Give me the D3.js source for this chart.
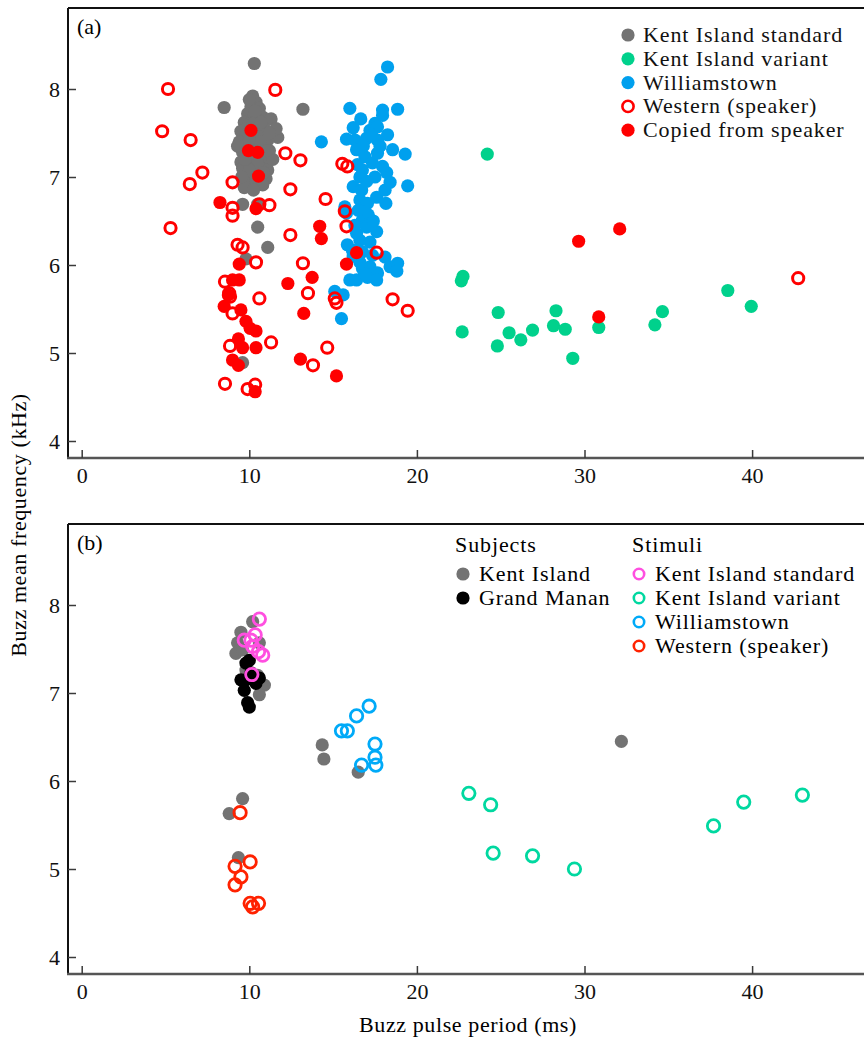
<!DOCTYPE html>
<html><head><meta charset="utf-8">
<script src="https://cdn.jsdelivr.net/npm/d3@7"></script>
<style>body{margin:0;background:#fff}svg{display:block}</style>
</head><body>
<svg id="c" width="864" height="1040"></svg>
<script>
// ---------- DATA (ms, kHz) ----------
const xTicks = [0, 10, 20, 30, 40];
const yTicks = [4, 5, 6, 7, 8];

// Panel (a)
const kentStandardA = [[10.3,8.29],[8.5,7.79],[13.2,7.77],[11.7,7.45],
 [10.2,7.92],[10.4,7.85],[10.1,7.80],[10.6,7.78],[9.9,7.72],[10.3,7.70],[10.8,7.68],[11.3,7.66],[9.7,7.62],[10.0,7.60],
 [10.5,7.58],[10.9,7.55],[9.5,7.52],[9.8,7.48],[10.2,7.47],[10.7,7.45],[11.1,7.42],[9.4,7.40],[9.9,7.37],[10.4,7.35],
 [10.8,7.33],[11.2,7.30],[9.6,7.28],[10.1,7.25],[10.6,7.22],[11.0,7.20],[9.5,7.17],[9.9,7.14],[10.3,7.12],[10.7,7.10],
 [11.1,7.08],[9.7,7.05],[10.2,7.02],[10.6,7.00],[11.0,6.98],[9.9,6.92],[10.4,6.90],[10.8,6.91],[9.7,6.88],[11.6,7.55],
 [9.3,7.35],[11.4,7.20],[10.0,7.88],[10.5,7.65],[10.1,7.52],[9.6,7.10],[10.9,7.40],[11.2,7.50],
 [10.35,7.75],[10.65,7.40],[10.0,7.42],[10.3,7.28],[10.5,7.15],[10.0,7.08],[10.85,7.05],[10.4,6.97],[10.2,7.60],[9.55,7.00],
 [10.7,7.62],[11.05,7.30],[9.75,7.20],[10.25,6.85],
 [9.6,6.69],[10.5,6.69],[10.5,6.43],[11.1,6.20],[9.8,6.07],[9.6,4.89]];
const kentVariantA = [[24.2,7.26],[22.75,5.87],[22.65,5.82],[24.85,5.46],[22.7,5.24],[24.8,5.08],[25.5,5.23],[26.2,5.15],
 [26.9,5.26],[28.3,5.48],[28.15,5.31],[28.85,5.27],[29.3,4.94],[30.85,5.29],[34.2,5.32],[34.65,5.47],[38.55,5.71],[39.95,5.53]];
const williamstownA = [[18.25,8.25],[17.85,8.11],[16.0,7.78],[18.85,7.77],[17.95,7.76],[16.65,7.66],[14.3,7.40],[18.25,7.48],
 [18.55,7.31],[19.3,7.26],[19.45,6.90],[18.15,6.70],[15.5,5.39],[15.1,5.70],[15.6,5.66],[18.1,6.09],
 [17.5,7.61],[17.2,7.53],[16.2,7.56],[15.8,7.43],[16.3,7.42],[17.0,7.44],[17.65,7.42],[16.4,7.31],[16.9,7.23],[16.45,7.14],
 [16.75,7.08],[16.6,7.00],[16.2,6.89],[16.7,6.85],[16.6,6.74],[17.05,6.70],[17.6,6.77],[18.1,6.85],[18.4,6.94],[18.2,7.05],
 [17.95,7.12],[17.35,7.16],[17.65,7.27],[17.8,7.35],[17.95,7.70],[17.65,7.57],
 [17.1,6.57],[16.75,6.51],[16.3,6.45],[17.0,6.43],[17.6,6.38],[16.4,6.36],[15.85,6.23],[16.6,6.28],[17.2,6.26],[16.15,6.17],
 [16.75,6.15],[17.35,6.11],[16.6,6.03],[17.2,5.98],[16.75,5.96],[17.65,5.91],[16.0,5.83],[16.4,5.83],[17.05,5.86],[17.6,5.83],
 [18.4,5.98],[18.85,6.02],[18.8,5.93],[15.7,6.66],[15.8,6.59],
 [17.3,7.48],[16.8,7.35],[17.5,7.00],[17.0,6.95],[16.9,6.60],[16.5,6.62],[17.4,6.50],[16.2,6.10],[16.9,5.90]];
const westernA = [[5.15,8.0],[4.8,7.52],[6.5,7.42],[7.2,7.05],[6.45,6.92],[9.0,6.94],[11.55,7.99],[12.15,7.27],[13.05,7.19],
 [12.45,6.86],[14.55,6.75],[9.0,6.65],[9.0,6.56],[11.2,6.68],[10.6,6.69],[5.3,6.42],[12.45,6.34],[15.55,7.15],[15.85,7.12],
 [15.7,6.61],[15.8,6.44],[9.3,6.23],[9.6,6.2],[10.4,6.03],[13.2,6.02],[8.55,5.81],[8.8,5.68],[8.85,5.64],[10.6,5.62],
 [13.5,5.68],[15.1,5.62],[15.2,5.57],[9.0,5.45],[11.3,5.12],[8.85,5.08],[14.65,5.06],[13.8,4.86],[8.55,4.65],[9.9,4.59],
 [10.35,4.64],[17.6,6.14],[18.55,5.61],[19.45,5.48],[42.75,5.85]];
const copiedA = [[10.1,7.53],[9.95,7.3],[10.5,7.28],[10.55,7.01],[8.25,6.71],[10.4,6.64],[14.2,6.44],[14.3,6.30],[9.4,6.01],
 [9.0,5.83],[9.4,5.83],[12.3,5.79],[13.75,5.86],[15.8,6.01],[8.75,5.66],[8.5,5.53],[9.5,5.49],[9.8,5.36],[10.05,5.28],
 [10.4,5.25],[13.25,5.45],[9.35,5.16],[9.6,5.06],[10.4,5.06],[9.0,4.92],[9.35,4.86],[13.05,4.93],[15.2,4.74],[10.35,4.56],
 [16.4,6.14],[29.65,6.27],[32.1,6.41],[30.85,5.41]];

// Panel (b)
const kentIslandSubjB = [[9.5,7.69],[9.3,7.57],[9.2,7.45],[10.2,7.81],[10.6,7.57],[9.8,7.26],[10.9,7.09],[10.6,6.98],
 [10.5,7.20],[9.6,7.49],[9.6,5.80],[8.8,5.63],[9.35,5.13],[14.35,6.41],[14.45,6.25],[16.5,6.10],[32.2,6.45]];
const grandMananB = [[10.0,7.37],[9.8,7.15],[10.4,7.11],[9.7,7.03],[9.9,6.89],[10.0,6.84],[9.5,7.15],[10.6,7.17],[10.1,7.23],[9.8,7.34]];
const kentStandardStimB = [[10.6,7.84],[10.35,7.66],[9.7,7.60],[10.1,7.60],[10.2,7.53],[10.55,7.47],[10.8,7.43],[10.15,7.21]];
const kentVariantStimB = [[23.1,5.86],[24.4,5.73],[24.55,5.18],[26.9,5.15],[29.4,5.0],[37.7,5.49],[39.5,5.76],[43.0,5.84]];
const williamstownStimB = [[15.5,6.57],[15.85,6.57],[16.4,6.74],[17.15,6.85],[17.5,6.42],[17.5,6.27],[17.55,6.18],[16.7,6.18]];
const westernStimB = [[9.45,5.64],[10.05,5.08],[9.15,5.03],[9.5,4.91],[9.15,4.82],[10.05,4.61],[10.55,4.61],[10.2,4.57]];

const legendA = ["Kent Island standard","Kent Island variant","Williamstown","Western (speaker)","Copied from speaker"];
const legendSubjects = ["Kent Island","Grand Manan"];
const legendStimuli = ["Kent Island standard","Kent Island variant","Williamstown","Western (speaker)"];

// ---------- STYLE ----------
const FONT = "'Liberation Serif', 'Times New Roman', serif";
const C = {grey:"#737373", green:"#00d18c", blue:"#00a0ee", red:"#ff0000", pink:"#ff4fe0",
           greenB:"#00d8a0", blueB:"#00aaf8", redB:"#ff2200", black:"#000"};
const svg = d3.select("#c");

const x = d3.scaleLinear().domain([0, 40]).range([81.7, 752.1]);
const xLeft = 68, xRight = 864;

function panel(top, label) {
  const y = d3.scaleLinear().domain([4, 8]).range([top + 433, top + 81]);
  const g = svg.append("g");
  const axisColor = "#3a3a3a";
  const yTop = top, yBot = top + 450;
  g.append("line").attr("x1", xLeft).attr("x2", xRight).attr("y1", yTop).attr("y2", yTop).attr("stroke", "#111").attr("stroke-width", 2);
  g.append("line").attr("x1", xLeft).attr("x2", xLeft).attr("y1", yTop).attr("y2", yBot).attr("stroke", "#111").attr("stroke-width", 2);
  g.append("line").attr("x1", xLeft-1).attr("x2", xRight).attr("y1", yBot).attr("y2", yBot).attr("stroke", "#555").attr("stroke-width", 2.5);
  const ax = g.append("g").attr("transform", `translate(0,${yBot})`)
    .call(d3.axisBottom(x).tickValues(xTicks).tickFormat(d3.format("d")).tickSizeInner(-8).tickSizeOuter(0).tickPadding(9));
  ax.select(".domain").remove();
  ax.selectAll("line").attr("stroke", axisColor).attr("stroke-width", 1.5);
  ax.selectAll("text").attr("font-family", FONT).attr("font-size", 22).attr("fill", "#111");
  const ay = g.append("g").attr("transform", `translate(${xLeft},0)`)
    .call(d3.axisLeft(y).tickValues(yTicks).tickFormat(d3.format("d")).tickSizeInner(-8).tickSizeOuter(0).tickPadding(8));
  ay.select(".domain").remove();
  ay.selectAll("line").attr("stroke", axisColor).attr("stroke-width", 1.5);
  ay.selectAll("text").attr("font-family", FONT).attr("font-size", 22).attr("fill", "#111");
  g.append("text").attr("x", 77).attr("y", top + 26).attr("font-family", FONT).attr("font-size", 22).text(label);
  return {g, y};
}

function filled(g, y, data, color, r = 6.6) {
  g.append("g").selectAll("circle").data(data).join("circle")
    .attr("cx", d => x(d[0])).attr("cy", d => y(d[1])).attr("r", r).attr("fill", color);
}
function ring(g, y, data, color, r = 5.6, sw = 3) {
  g.append("g").selectAll("circle").data(data).join("circle")
    .attr("cx", d => x(d[0])).attr("cy", d => y(d[1])).attr("r", r)
    .attr("fill", "none").attr("stroke", color).attr("stroke-width", sw);
}

// Panel (a)
const A = panel(8, "(a)");
filled(A.g, A.y, kentStandardA, C.grey);
filled(A.g, A.y, kentVariantA, C.green);
filled(A.g, A.y, williamstownA, C.blue);
ring(A.g, A.y, westernA, C.red);
filled(A.g, A.y, copiedA, C.red);

const legA = A.g.append("g");
const legAcol = [C.grey, C.green, C.blue, C.red, C.red];
legendA.forEach((t, i) => {
  const cy = 35 + i * 23.8;
  if (i === 3) legA.append("circle").attr("cx", 628).attr("cy", cy).attr("r", 5.6).attr("fill", "none").attr("stroke", C.red).attr("stroke-width", 2.6);
  else legA.append("circle").attr("cx", 628).attr("cy", cy).attr("r", 6.6).attr("fill", legAcol[i]);
  legA.append("text").attr("x", 643).attr("y", cy + 7).attr("font-family", FONT).attr("font-size", 22)
    .attr("letter-spacing", 0.9).attr("fill", "#111").text(t);
});

// Panel (b)
const B = panel(524, "(b)");
filled(B.g, B.y, kentIslandSubjB, C.grey);
filled(B.g, B.y, grandMananB, C.black);
ring(B.g, B.y, williamstownStimB, C.blueB, 6.2, 2.8);
ring(B.g, B.y, kentVariantStimB, C.greenB, 6.2, 2.8);
ring(B.g, B.y, westernStimB, C.redB, 6.2, 2.8);
ring(B.g, B.y, kentStandardStimB, C.pink, 6.2, 2.8);

const legB = B.g.append("g");
legB.append("text").attr("x", 455).attr("y", 552).attr("font-family", FONT).attr("font-size", 22).attr("letter-spacing", 0.9).text("Subjects");
legB.append("text").attr("x", 632).attr("y", 552).attr("font-family", FONT).attr("font-size", 22).attr("letter-spacing", 0.9).text("Stimuli");
const subCol = [C.grey, C.black];
legendSubjects.forEach((t, i) => {
  const cy = 574 + i * 24;
  legB.append("circle").attr("cx", 463).attr("cy", cy).attr("r", 6.6).attr("fill", subCol[i]);
  legB.append("text").attr("x", 479).attr("y", cy + 7).attr("font-family", FONT).attr("font-size", 22).attr("letter-spacing", 0.9).text(t);
});
const stimCol = [C.pink, C.greenB, C.blueB, C.redB];
legendStimuli.forEach((t, i) => {
  const cy = 574 + i * 24;
  legB.append("circle").attr("cx", 639).attr("cy", cy).attr("r", 5.2).attr("fill", "none").attr("stroke", stimCol[i]).attr("stroke-width", 2.6);
  legB.append("text").attr("x", 655).attr("y", cy + 7).attr("font-family", FONT).attr("font-size", 22).attr("letter-spacing", 0.9).text(t);
});

svg.append("text").attr("transform", "translate(26,525) rotate(-90)").attr("text-anchor", "middle")
  .attr("font-family", FONT).attr("font-size", 22).attr("letter-spacing", 0.6).text("Buzz mean frequency (kHz)");
svg.append("text").attr("x", 468).attr("y", 1032).attr("text-anchor", "middle")
  .attr("font-family", FONT).attr("font-size", 22).attr("letter-spacing", 0.6).text("Buzz pulse period (ms)");
</script>
</body></html>
